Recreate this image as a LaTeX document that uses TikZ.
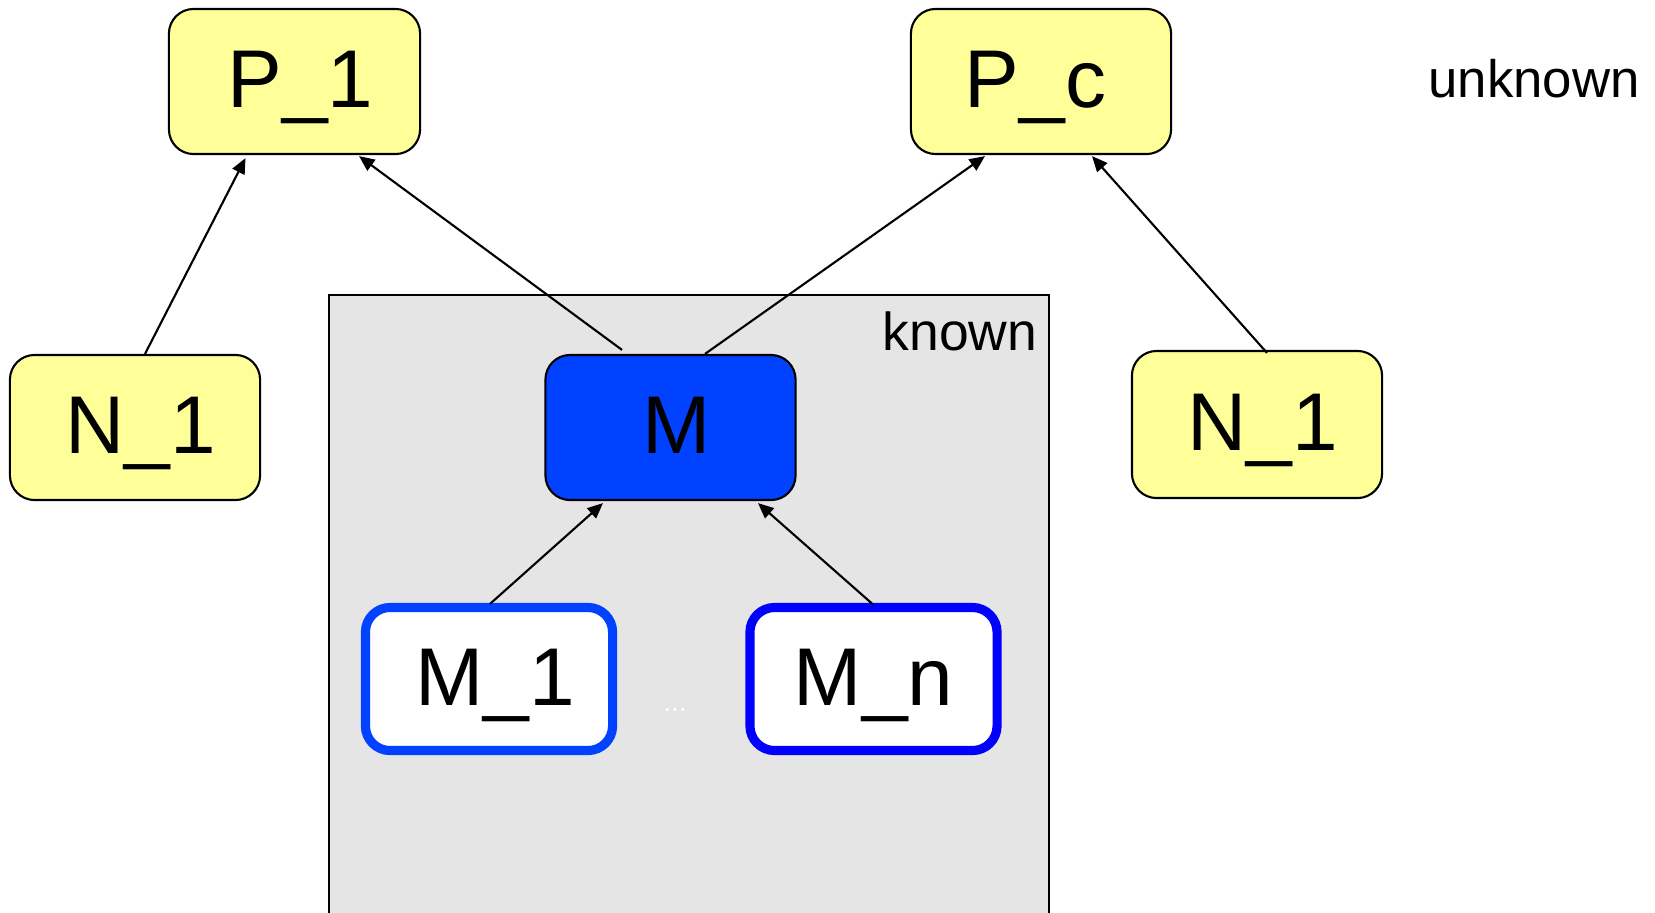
\documentclass[tikz,border=0pt]{standalone}
\usepackage{fontspec}
\setmainfont{Liberation Sans}
\usetikzlibrary{calc,arrows.meta}

\definecolor{pyellow}{RGB}{255,255,153}
\definecolor{kgray}{RGB}{229,229,229}
\definecolor{mblue}{RGB}{0,66,255}
\definecolor{nblue}{RGB}{0,0,255}

\def\varnudge{3.4pt}
\tikzset{
	nudge/.code={\def\varnudge{#1}},
	var/.style={draw=black, line width=0.6pt, rounded corners=7pt, fill=pyellow,
		minimum width=2.5cm, minimum height=1.45cm, inner sep=0pt,
		text height=17pt, text depth=2.2pt,
		execute at begin node={\hspace*{\varnudge}},
		font=\fontsize{23.3}{23.3}\selectfont},
	known var/.style={var, fill=mblue},
	sub var/.style={var, fill=white, line width=2.6pt,
		minimum width=2.47cm, minimum height=1.43cm},
	dep/.style={-{Triangle[length=4.4pt, width=3.8pt]}, line width=0.6pt},
}

\begin{document}
\begin{tikzpicture}[x=0.01cm, y=-0.01cm]
			%%%%% START %%%%%
			\useasboundingbox (0, 0) rectangle (1655, 912);
			
			% known part
			\draw[fill=kgray, line width=0.6pt] (329, 295) rectangle (1049, 930);
			\node[font=\fontsize{15.2}{15.2}\selectfont, anchor=east, inner sep=0pt] (knownlbl) at (1038, 331) {known};
			\node[font=\fontsize{15}{15}\selectfont] (unknownlbl) at (1534, 79) {unknown};
			
			% parents
			\node[var, minimum width=2.51cm] (p1) at (294.5, 81.5) {P\_1};
			\node[var, minimum width=2.6cm, nudge=-3.2pt] (pc) at (1041, 81.5) {P\_c};
			
			% neighbours
			\node[var] (n1l) at (135, 427.5) {N\_1};
			\node[var, minimum height=1.47cm] (n1r) at (1257, 424.5) {N\_1};
			
			% model and its parts
			\node[known var] (m) at (670.5, 427.5) {M};
			\node[sub var, draw=mblue] (m1) at (489, 679) {M\_1};
			\node[sub var, draw=nblue, nudge=0pt] (mn) at (873.5, 679) {M\_n};
			\node[white, font=\fontsize{8}{8}\selectfont] (dots) at (675, 710) {...};
			
			\draw[dep] ($(n1l.north)+(10, 0)$) -- ($(p1.south)+(-49, 3)$);
			\draw[dep] ($(m.north)+(-48.5, -4)$) -- ($(p1.south)+(64.5, 1)$);
			\draw[dep] ($(m.north)+(34.5, 0)$) -- ($(pc.south)+(-56, 1)$);
			\draw[dep] ($(n1r.north)+(10, 3)$) -- ($(pc.south)+(51, 1)$);
			\draw[dep] ($(m1.north)+(1, 1)$) -- ($(m.south)+(-67.5, 2)$);
			\draw[dep] ($(mn.north)+(0, 2)$) -- ($(m.south)+(87.5, 2)$);
			
			%%%%% END %%%%%
		\end{tikzpicture}
\end{document}
